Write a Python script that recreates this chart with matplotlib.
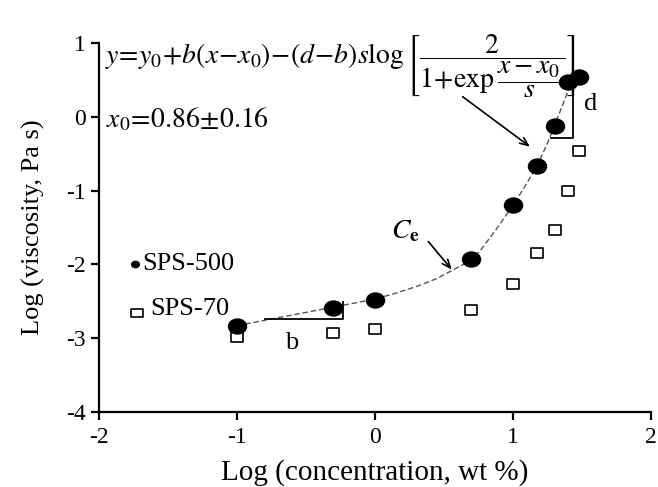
import matplotlib
matplotlib.use('Agg')
import matplotlib.pyplot as plt
from matplotlib.path import Path
from matplotlib.markers import MarkerStyle

plt.rcParams['font.family'] = ['Liberation Serif', 'DejaVu Serif']
plt.rcParams['mathtext.fontset'] = 'stix'
plt.rcParams['axes.unicode_minus'] = False

# log10 of concentration (wt %)
log_conc = [-1.0, -0.301, 0.0, 0.699, 1.0, 1.176, 1.301, 1.398, 1.477]
# log viscosity (Pa s)
sps500 = [-2.84, -2.59, -2.48, -1.93, -1.20, -0.67, -0.12, 0.47, 0.54]
sps70 = [-2.99, -2.93, -2.88, -2.62, -2.27, -1.84, -1.53, -1.01, -0.46]

# fitted curve through SPS-500
fit_x = [-1.0, -0.75, -0.5, -0.25, 0.0, 0.15, 0.3, 0.45, 0.55, 0.63, 0.70, 0.76, 0.82, 0.88,
         0.94, 1.0, 1.05, 1.10, 1.176, 1.256, 1.30, 1.353, 1.413]
fit_y = [-2.83, -2.74, -2.65, -2.56, -2.47, -2.39, -2.30, -2.19, -2.09, -2.01, -1.93, -1.82,
         -1.67, -1.52, -1.36, -1.20, -1.05, -0.90, -0.66, -0.33, -0.12, 0.13, 0.42]

# markers look a bit squashed in the original
ellipse = Path(Path.unit_circle().vertices * [1.0, 0.83], Path.unit_circle().codes)
box = Path([(-1, -0.75), (1, -0.75), (1, 0.75), (-1, 0.75), (-1, -0.75)],
           [Path.MOVETO, Path.LINETO, Path.LINETO, Path.LINETO, Path.CLOSEPOLY])

fig = plt.figure(figsize=(6.58, 4.87), dpi=100)
ax = fig.add_axes([0.1505, 0.154, 0.8389, 0.7577])

ax.plot(fit_x, fit_y, color='#555555', lw=1.0, linestyle=(0, (4, 2)), zorder=2)
ax.plot(log_conc, sps70, linestyle='none', marker=MarkerStyle(box), markersize=9,
        markerfacecolor='white', markeredgecolor='black', markeredgewidth=1.2, zorder=3)
ax.plot(log_conc, sps500, linestyle='none', marker=MarkerStyle(ellipse), markersize=13,
        color='black', zorder=4)

# legend drawn as text inside the axes
ax.plot([-1.74], [-2.0], linestyle='none', marker=MarkerStyle(ellipse), markersize=5.5, color='black')
ax.text(-1.69, -2.0, 'SPS-500', fontsize=19, ha='left', va='center')
ax.plot([-1.725], [-2.66], linestyle='none', marker=MarkerStyle(box), markersize=8,
        markerfacecolor='white', markeredgecolor='black', markeredgewidth=1.2)
ax.text(-1.63, -2.61, 'SPS-70', fontsize=19, ha='left', va='center')

# equation and x0
eq = (r'$y\!=\!y_0\!+\!b(x\!-\!x_0)\!-\!(d\!-\!b)s\log'
      r'\left[\dfrac{2}{1\!+\!\exp\dfrac{x-x_0}{s}}\right]$')
ax.text(-1.957, 0.72, eq, fontsize=20, ha='left', va='baseline')
ax.text(-1.95, -0.15, r'$x_0\!=\!0.86\!\pm\!0.16$', fontsize=20, ha='left', va='baseline')

# slope brackets b and d
ax.plot([-0.797, -0.234, -0.234], [-2.74, -2.74, -2.505], color='black', lw=1.3)
ax.text(-0.604, -3.07, 'b', fontsize=19, ha='center', va='center')
ax.plot([1.273, 1.432, 1.432], [-0.29, -0.29, 0.45], color='black', lw=1.3)
ax.text(1.563, 0.18, 'd', fontsize=19, ha='center', va='center')

# arrows
arrow = dict(arrowstyle='->,head_length=0.6,head_width=0.25', color='black', lw=1.2,
             shrinkA=0, shrinkB=0)
ax.annotate('', xy=(1.123, -0.405), xytext=(0.635, 0.272), arrowprops=arrow)
ax.annotate('', xy=(0.556, -2.07), xytext=(0.386, -1.69), arrowprops=arrow)
ax.text(0.22, -1.55, r'$C_{\mathbf{e}}$', fontsize=20, ha='center', va='center')

ax.set_xlim(-2, 2)
ax.set_ylim(-4, 1)
ax.set_xticks([-2, -1, 0, 1, 2])
ax.set_yticks([-4, -3, -2, -1, 0, 1])
ax.spines['top'].set_visible(False)
ax.spines['right'].set_visible(False)
ax.spines['left'].set_linewidth(1.6)
ax.spines['bottom'].set_linewidth(1.6)
ax.tick_params(axis='both', direction='out', length=6, width=1.6, labelsize=17)
ax.tick_params(axis='x', pad=5)
ax.set_xlabel('Log (concentration, wt %)', fontsize=21, labelpad=8)
ax.set_ylabel('Log (viscosity, Pa s)', fontsize=19, labelpad=15)

fig.savefig('out.png', dpi=100)
